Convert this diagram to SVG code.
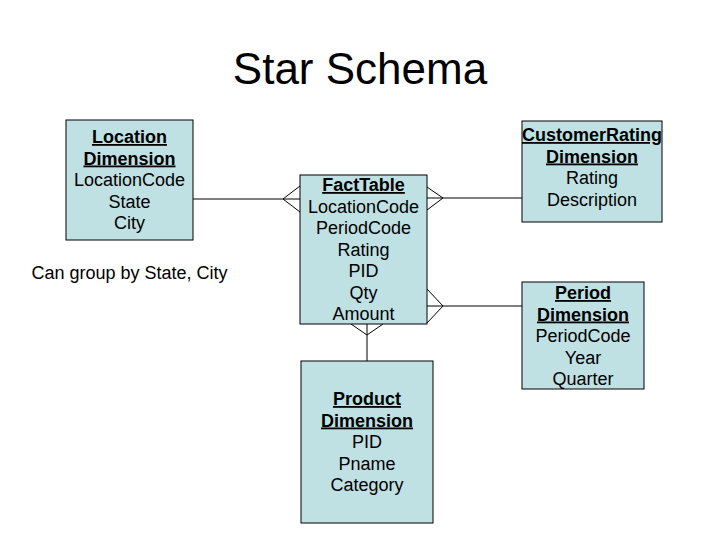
<svg xmlns="http://www.w3.org/2000/svg" width="720" height="540" viewBox="0 0 720 540">
<style>
text{font-family:"Liberation Sans",Arial,sans-serif;fill:#000}
.t{font-size:44px}
.l{font-size:18px;text-anchor:middle}
.h{font-weight:bold;text-decoration:underline}
.box{fill:#bfe1e4;stroke:#000;stroke-width:1}
.c{fill:none;stroke:#000;stroke-width:1}
</style>
<rect width="720" height="540" fill="#fff"/>
<text class="t" x="360" y="84" text-anchor="middle">Star Schema</text>
<g id="connectors">
<path class="c" d="M193,199H300M283,199L300,186M283,199L300,212"/>
<path class="c" d="M427,198H522M443,198L427,187M443,198L427,210"/>
<path class="c" d="M427,306H522M443,306L427,289M443,306L427,323"/>
<path class="c" d="M367,324V361M367,335L351,324M367,335L383,324"/>
</g>
<g id="location">
<rect class="box" x="66" y="120" width="127" height="120"/>
<text class="l h" x="129.5" y="143">Location</text>
<text class="l h" x="129.5" y="164.5">Dimension</text>
<text class="l" x="129.5" y="186">LocationCode</text>
<text class="l" x="129.5" y="207.5">State</text>
<text class="l" x="129.5" y="229">City</text>
</g>
<g id="note">
<text class="l" x="129.5" y="279">Can group by State, City</text>
</g>
<g id="fact">
<rect class="box" x="300" y="175" width="127" height="149"/>
<text class="l h" x="363.5" y="191">FactTable</text>
<text class="l" x="363.5" y="212.5">LocationCode</text>
<text class="l" x="363.5" y="234">PeriodCode</text>
<text class="l" x="363.5" y="255.5">Rating</text>
<text class="l" x="363.5" y="277">PID</text>
<text class="l" x="363.5" y="298.5">Qty</text>
<text class="l" x="363.5" y="320">Amount</text>
</g>
<g id="customer">
<rect class="box" x="522" y="121" width="140" height="101"/>
<text class="l h" x="592" y="141">CustomerRating</text>
<text class="l h" x="592" y="162.5">Dimension</text>
<text class="l" x="592" y="184">Rating</text>
<text class="l" x="592" y="205.5">Description</text>
</g>
<g id="period">
<rect class="box" x="522" y="282" width="122" height="107"/>
<text class="l h" x="583" y="299">Period</text>
<text class="l h" x="583" y="320.5">Dimension</text>
<text class="l" x="583" y="342">PeriodCode</text>
<text class="l" x="583" y="363.5">Year</text>
<text class="l" x="583" y="385">Quarter</text>
</g>
<g id="product">
<rect class="box" x="301" y="361" width="132" height="162"/>
<text class="l h" x="367" y="405">Product</text>
<text class="l h" x="367" y="426.5">Dimension</text>
<text class="l" x="367" y="448">PID</text>
<text class="l" x="367" y="469.5">Pname</text>
<text class="l" x="367" y="491">Category</text>
</g>
</svg>
